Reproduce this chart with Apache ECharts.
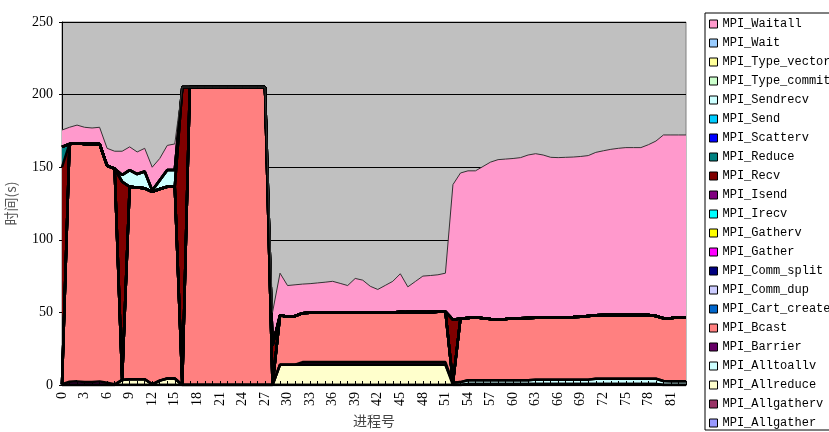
<!DOCTYPE html>
<html>
<head>
<meta charset="utf-8">
<script src="https://cdn.jsdelivr.net/npm/echarts@6/dist/echarts.min.js"></script>
<style>
  html, body { margin: 0; padding: 0; background: #fff; }
  #chart { width: 829px; height: 432px; }
</style>
</head>
<body>
<div id="chart"></div>
<script>
// Process ranks 0..83 (category axis)
const ranks = ['0','1','2','3','4','5','6','7','8','9','10','11','12','13','14','15','16','17','18','19','20',
  '21','22','23','24','25','26','27','28','29','30','31','32','33','34','35','36','37','38','39','40','41',
  '42','43','44','45','46','47','48','49','50','51','52','53','54','55','56','57','58','59','60','61','62',
  '63','64','65','66','67','68','69','70','71','72','73','74','75','76','77','78','79','80','81','82','83'];

const yTicks = [0, 50, 100, 150, 200, 250];

// Time (s) spent in each MPI call, per process rank
const idle = [0,0,0,0,0,0,0,0,0,0,0,0,0,0,0,0,0,0,0,0,0,0,0,0,0,0,0,0,0,0,0,0,0,0,0,0,0,0,0,0,0,0,
  0,0,0,0,0,0,0,0,0,0,0,0,0,0,0,0,0,0,0,0,0,0,0,0,0,0,0,0,0,0,0,0,0,0,0,0,0,0,0,0,0,0];

const allgatherv = [0,0,0,0,0,0,0,0,0,0,0,0,0,0,0,0,0,0,0,0,0,0,0,0,0,0,0,0,0,0,0,0,0,0,0,0,0,0,0,0,0,0,
  0,0,0,0,0,0,0,0,0,0,0,0,0.7,0.7,0.7,0.7,0.7,0.7,0.7,0.7,0.7,0.7,0.7,0.7,0.7,0.7,0.7,0.7,0.7,0.7,0.7,0.7,0.7,0.7,0.7,0.7,0.7,0.7,0,0,0,0];

const allreduce = [0,0,0,0,0,0,0,0,3.5,4,4,4,0.5,3,4.5,4.5,0,0,0,0,0,0,0,0,0,0,0,0,0,
  14,14,14,14,14,14,14,14,14,14,14,14,14,14,14,14,14,14,14,14,14,14,14,
  0,0,0,0,0,0,0,0,0,0,0,0,0,0,0,0,0,0,0,0,0,0,0,0,0,0,0,0,0,0,0,0];

const alltoallv = [0,0,0,0,0,0,0,0,0,0,0,0,0,0,0,0,0,0,0,0,0,0,0,0,0,0,0,0,0,0,0,0,0,0,0,0,0,0,0,0,0,0,
  0,0,0,0,0,0,0,0,0,0,1.5,2.0,2.6,2.6,2.6,2.6,2.6,2.6,2.6,2.6,2.6,3.0,3.0,3.0,3.0,3.0,3.0,3.0,3.0,
  3.6,3.6,3.6,3.6,3.6,3.6,3.6,3.6,3.6,2.8,2.6,2.6,2.6];

const barrier = [0.5,2.3,2.5,2.0,2.0,2.5,1.5,0.5,0,0,0,0,0,0,0,0,0,0,0,0,0,0,0,0,0,0,0,0,0,0,0,0,
  1.8,1.8,1.8,1.8,1.8,1.8,1.8,1.8,1.8,1.8,1.8,1.8,1.8,1.8,1.8,1.8,1.8,1.8,1.8,1.8,
  0,0,0,0,0,0,0,0,0,0,0,0,0,0,0,0,0,0,0,0,0,0,0,0,0,0,0,0,0,0,0,0];

const bcast = [0,163.7,164,164,164,163.5,149.5,148.5,0,132.5,132,131.5,132.5,132,132,132,0,
  205.2,205.2,205.2,205.2,205.2,205.2,205.2,205.2,205.2,205.2,205.2,0,
  34,33,33.5,33.7,34,34.2,34.2,34.2,34.2,34.3,34.3,34.3,34.2,34.2,34.3,34.2,34,34.4,34.4,34.5,34.2,34.7,34.8,
  0,43.8,42.9,43.3,42.7,42.2,41.9,42.2,42.6,42.7,42.9,42.6,42.7,42.8,42.9,43.0,43.1,43.3,43.8,
  43.7,43.9,43.9,43.9,43.9,43.9,43.9,43.9,43.2,43.2,43.6,43.9,44.0];

const recv = [149.5,0,0,0,0,0,0,0,136.5,0,0,0,0,0,0,0,205.2,0,0,0,0,0,0,0,0,0,0,0,27,
  0,0,0,0,0,0,0,0,0,0,0,0,0,0,0,0,0.6,0,0,0,0.5,0,0,
  43.5,0,0,0,0,0,0,0,0,0,0,0,0,0,0,0,0,0,0,0,0,0,0,0,0,0,0,0,0,0,0,0];

const reduce = [14,0,0,0,0,0,0,0,0,0,0,0,0,0,0,0,0,0,0,0,0,0,0,0,0,0,0,0,0,0,0,0,0,0,0,0,0,0,0,0,0,0,
  0,0,0,0,0,0,0,0,0,0,0,0,0,0,0,0,0,0,0,0,0,0,0,0,0,0,0,0,0,0,0,0,0,0,0,0,0,0,0,0,0,0];

const sendrecv = [0,0,0,0,0,0,0,0,4.6,11.5,9.3,11.5,1,6,11.5,11.5,0,0,0,0,0,0,0,0,0,0,0,0,0,0,0,0,0,0,0,0,0,0,0,0,0,0,
  0,0,0,0,0,0,0,0,0,0,0,0,0,0,0,0,0,0,0,0,0,0,0,0,0,0,0,0,0,0,0,0,0,0,0,0,0,0,0,0,0,0];

const waitall = [11.6,11.5,12.5,11.5,11,11.5,12,12,16.4,16,15.2,16,16,15,17,18,
  0,0,0,0,0,0,0,0,0,0,0,0,23,
  29,21.5,21.5,20,20,20.3,20.8,21.4,20,18.4,23.3,22.1,18,15.8,18.5,21.4,26.2,17.4,21.1,24.7,24.9,25.4,26.4,
  93,100.2,101.3,100.9,104.5,108,110,110.1,110.1,110.6,112.2,113,112,110.3,110,110.1,110.2,110.4,110.5,
  112.2,113.1,114.1,114.8,115.3,115.3,115.3,117.3,120.5,126.2,126,125.7,125.6];

// Stack order, bottom to top
const callNames = ['MPI_Allgather','MPI_Allgatherv','MPI_Allreduce','MPI_Alltoallv','MPI_Barrier','MPI_Bcast',
  'MPI_Cart_create','MPI_Comm_dup','MPI_Comm_split','MPI_Gather','MPI_Gatherv','MPI_Irecv','MPI_Isend',
  'MPI_Recv','MPI_Reduce','MPI_Scatterv','MPI_Send','MPI_Sendrecv','MPI_Type_commit','MPI_Type_vector',
  'MPI_Wait','MPI_Waitall'];
const callValues = [idle, allgatherv, allreduce, alltoallv, barrier, bcast,
  idle, idle, idle, idle, idle, idle, idle,
  recv, reduce, idle, idle, sendrecv, idle, idle,
  idle, waitall];
const callColors = ['#9999FF','#993366','#FFFFCC','#CCFFFF','#660066','#FF8080',
  '#0066CC','#CCCCFF','#000080','#FF00FF','#FFFF00','#00FFFF','#800080',
  '#800000','#008080','#0000FF','#00CCFF','#CCFFFF','#CCFFCC','#FFFF99',
  '#99CCFF','#FF99CC'];

const series = callNames.map(function (name, k) {
  const top = name === 'MPI_Waitall';
  return {
    name: name,
    type: 'line',
    stack: 'calls',
    data: callValues[k],
    symbol: 'none',
    showSymbol: false,
    color: callColors[k],
    lineStyle: { color: top ? '#333' : '#000', width: top ? 1 : 2.5 },
    areaStyle: { color: callColors[k], opacity: 1 },
    emphasis: { disabled: true },
    z: 2
  };
});

const legendItems = callNames.slice().reverse().map(function (name) {
  return {
    name: name,
    icon: 'rect',
    itemStyle: { color: callColors[callNames.indexOf(name)], borderColor: '#000', borderWidth: 1 }
  };
});

const chart = echarts.init(document.getElementById('chart'), null, { renderer: 'canvas' });
chart.setOption({
  animation: false,
  backgroundColor: '#fff',
  grid: {
    left: 62, right: 143, top: 22, bottom: 47,
    outerBoundsMode: 'none',
    containLabel: false,
    show: true, backgroundColor: '#C0C0C0', borderColor: '#808080', borderWidth: 1
  },
  legend: {
    orient: 'vertical',
    left: 705, top: 13, height: 430,
    padding: [5, 40, 1, 4],
    itemWidth: 8, itemHeight: 8, itemGap: 7,
    backgroundColor: '#fff', borderColor: '#000', borderWidth: 1, borderRadius: 0,
    selectedMode: false,
    textStyle: { fontFamily: 'Liberation Mono', fontSize: 12, color: '#000', lineHeight: 12 },
    data: legendItems
  },
  xAxis: {
    type: 'category',
    data: ranks,
    boundaryGap: false,
    z: 5,
    name: '进程号',
    nameLocation: 'middle',
    nameGap: 29,
    nameTextStyle: { fontFamily: 'Noto Sans CJK SC', fontSize: 14, color: '#444' },
    axisLine: { lineStyle: { color: '#000', width: 1 } },
    axisTick: { inside: true, interval: 0, length: 4, lineStyle: { color: '#000' } },
    axisLabel: { interval: 2, rotate: 90, margin: 7, fontFamily: 'Liberation Serif', fontSize: 14, color: '#000' },
    splitLine: { show: false }
  },
  yAxis: {
    type: 'value',
    min: yTicks[0], max: yTicks[yTicks.length - 1], interval: 50,
    name: '时间(s)',
    nameLocation: 'middle',
    nameGap: 44,
    nameRotate: 90,
    nameTextStyle: { fontFamily: 'Noto Sans CJK SC', fontSize: 14, color: '#555' },
    axisLine: { show: true, lineStyle: { color: '#000', width: 1 } },
    axisTick: { show: true, length: 3, lineStyle: { color: '#000' } },
    axisLabel: { margin: 9, fontFamily: 'Liberation Serif', fontSize: 14, color: '#000' },
    splitLine: { show: true, lineStyle: { color: '#000', width: 1 } }
  },
  series: series
});
</script>
</body>
</html>
